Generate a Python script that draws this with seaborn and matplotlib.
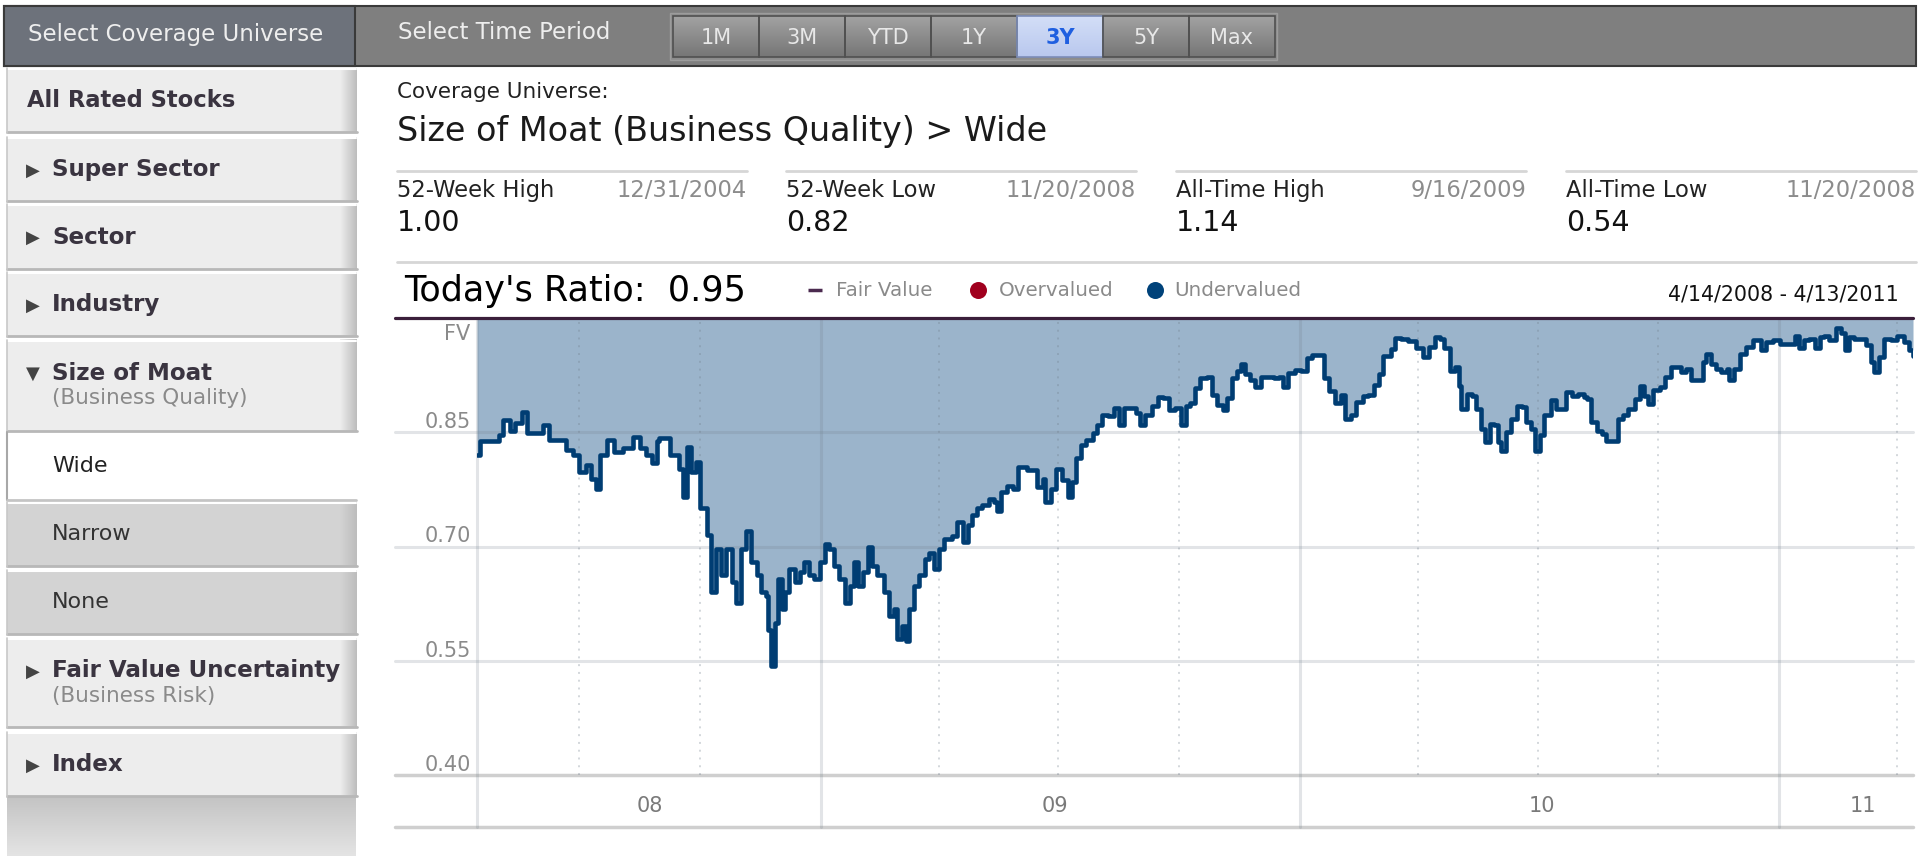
import numpy as np
import pandas as pd
import matplotlib
matplotlib.use("Agg")
import matplotlib.pyplot as plt
import matplotlib.colors as mcolors
import matplotlib.transforms as mtransforms
from matplotlib.patches import Rectangle
import seaborn as sns

# ---------------- data ----------------
start_date = "2008-04-14"
end_date = "2011-04-13"

# days after start date / price-to-fair-value ratio
days_a = [0, 2, 10, 17, 20, 25, 29, 34, 38, 45,
          50, 55, 63, 68, 73, 78, 83, 87, 91, 94,
          99, 104, 111, 119, 124, 129, 133, 137, 139, 147,
          154, 157, 160, 163, 167, 170, 173, 175, 178, 182,
          186, 190, 194, 197, 201, 205, 209, 213, 216, 220,
          222, 224, 227, 229, 232, 235, 238, 242, 246, 249,
          253, 257, 261, 265, 268, 272, 276, 280, 284, 287,
          290, 294, 298, 301, 305, 310, 314, 318, 320, 324,
          327, 329, 333, 337, 341, 344, 348, 352, 356]
ratio_a = [0.820, 0.838, 0.838, 0.846, 0.866, 0.851, 0.862, 0.877, 0.849, 0.849,
           0.860, 0.840, 0.840, 0.827, 0.820, 0.798, 0.807, 0.789, 0.776, 0.820,
           0.840, 0.824, 0.829, 0.844, 0.829, 0.820, 0.809, 0.838, 0.842, 0.820,
           0.802, 0.765, 0.831, 0.798, 0.811, 0.750, 0.750, 0.715, 0.640, 0.697,
           0.662, 0.697, 0.653, 0.626, 0.697, 0.721, 0.679, 0.662, 0.640, 0.635,
           0.591, 0.543, 0.600, 0.657, 0.618, 0.640, 0.670, 0.653, 0.666, 0.679,
           0.662, 0.657, 0.679, 0.703, 0.697, 0.675, 0.657, 0.626, 0.648, 0.679,
           0.648, 0.666, 0.699, 0.675, 0.662, 0.640, 0.609, 0.618, 0.578, 0.596,
           0.576, 0.618, 0.648, 0.662, 0.684, 0.692, 0.670, 0.697, 0.710]

days_b = [362, 366, 370, 374, 377, 381, 385, 390, 394, 396,
          399, 404, 408, 412, 419, 427, 431, 433, 437, 441,
          446, 450, 453, 456, 460, 464, 469, 472, 476, 481,
          485, 489, 493, 497, 502, 505, 509, 514, 519, 523,
          527, 532, 536, 540, 543, 547, 551, 556, 560, 564,
          568, 571, 575, 579, 582, 585, 589, 593, 597, 602,
          607, 611, 614, 618, 623, 628, 632, 636, 641, 645,
          649, 654, 658, 661, 666, 670, 675, 679, 683, 687,
          690, 696, 699, 704, 709, 715]
ratio_b = [0.714, 0.732, 0.706, 0.728, 0.741, 0.750, 0.754, 0.763, 0.758, 0.747,
           0.772, 0.780, 0.776, 0.805, 0.800, 0.778, 0.789, 0.758, 0.776, 0.802,
           0.787, 0.765, 0.785, 0.816, 0.833, 0.840, 0.849, 0.860, 0.873, 0.871,
           0.882, 0.860, 0.882, 0.882, 0.875, 0.860, 0.873, 0.884, 0.896, 0.895,
           0.879, 0.882, 0.860, 0.884, 0.888, 0.908, 0.921, 0.923, 0.899, 0.886,
           0.879, 0.895, 0.921, 0.930, 0.939, 0.926, 0.919, 0.910, 0.923, 0.923,
           0.921, 0.923, 0.910, 0.928, 0.932, 0.930, 0.948, 0.952, 0.952, 0.921,
           0.904, 0.888, 0.899, 0.868, 0.873, 0.890, 0.897, 0.899, 0.912, 0.926,
           0.950, 0.959, 0.974, 0.972, 0.970, 0.961]

days_c = [721, 725, 730, 734, 737, 741, 745, 748, 750, 754,
          758, 761, 765, 768, 772, 775, 778, 780, 784, 788,
          792, 796, 799, 803, 806, 810, 813, 818, 822, 826,
          830, 834, 839, 843, 846, 849, 853, 857, 860, 865,
          869, 873, 877, 882, 886, 889, 892, 896, 901, 905,
          910, 913, 917, 921, 925, 930, 934, 936, 940, 944,
          948, 952, 954, 958, 962, 967, 972, 976, 978, 982,
          987, 993, 1000, 1004, 1007, 1011, 1015, 1019, 1023, 1026,
          1030, 1035, 1039, 1042, 1045, 1049, 1054, 1058, 1062, 1064,
          1068, 1072, 1077, 1082, 1087, 1091, 1094]
ratio_c = [0.949, 0.962, 0.975, 0.973, 0.960, 0.931, 0.936, 0.911, 0.881, 0.900,
           0.898, 0.881, 0.854, 0.837, 0.861, 0.859, 0.837, 0.826, 0.850, 0.868,
           0.885, 0.883, 0.863, 0.854, 0.826, 0.846, 0.872, 0.892, 0.881, 0.881,
           0.903, 0.898, 0.900, 0.896, 0.894, 0.863, 0.852, 0.848, 0.839, 0.839,
           0.868, 0.872, 0.881, 0.894, 0.911, 0.898, 0.887, 0.905, 0.909, 0.922,
           0.936, 0.936, 0.929, 0.933, 0.918, 0.918, 0.942, 0.953, 0.940, 0.933,
           0.929, 0.933, 0.918, 0.933, 0.953, 0.962, 0.971, 0.971, 0.958, 0.969,
           0.971, 0.966, 0.966, 0.977, 0.960, 0.971, 0.973, 0.960, 0.975, 0.977,
           0.971, 0.987, 0.980, 0.958, 0.975, 0.973, 0.973, 0.964, 0.942, 0.929,
           0.949, 0.973, 0.971, 0.977, 0.969, 0.958, 0.950]

y_ticks = [0.40, 0.55, 0.70, 0.85, 1.00]
y_tick_labels = ["0.40", "0.55", "0.70", "0.85", "FV"]
year_labels = ["08", "09", "10", "11"]
year_label_dates = ["2008-08-24", "2009-06-28", "2010-07-04", "2011-03-06"]
year_starts = ["2009-01-01", "2010-01-01", "2011-01-01"]
quarter_starts = ["2008-07-01", "2008-10-01", "2009-04-01", "2009-07-01", "2009-10-01",
                  "2010-04-01", "2010-07-01", "2010-10-01", "2011-04-01"]

time_periods = ["1M", "3M", "YTD", "1Y", "3Y", "5Y", "Max"]
selected_period = "3Y"
stat_names = ["52-Week High", "52-Week Low", "All-Time High", "All-Time Low"]
stat_dates = ["12/31/2004", "11/20/2008", "9/16/2009", "11/20/2008"]
stat_values = [1.00, 0.82, 1.14, 0.54]
todays_ratio = 0.95
legend_labels = ["Fair Value", "Overvalued", "Undervalued"]

# ---------------- style ----------------
sns.set_theme(style="white")
plt.rcParams["font.family"] = ["DejaVu Sans"]

fig = plt.figure(figsize=(19.2, 8.56), dpi=100, facecolor="white")
ui = fig.add_axes([0, 0, 1, 1], zorder=0)
ui.set_xlim(0, 1920)
ui.set_ylim(856, 0)
ui.axis("off")


def rect(x0, y0, x1, y1, fc, ec="none", lw=0, z=1):
    ui.add_patch(Rectangle((x0, y0), x1 - x0, y1 - y0, facecolor=fc,
                           edgecolor=ec, linewidth=lw, zorder=z))


def vgrad(x0, y0, x1, y1, c_top, c_bot, z=1):
    c0 = np.array(mcolors.to_rgb(c_top))
    c1 = np.array(mcolors.to_rgb(c_bot))
    t = np.linspace(0, 1, 64)[:, None]
    img = (c0 * (1 - t) + c1 * t)[:, None, :]
    ui.imshow(img, extent=(x0, x1, y1, y0), aspect="auto", zorder=z,
              interpolation="bilinear")


def hgrad(x0, y0, x1, y1, c_l, c_r, z=1):
    c0 = np.array(mcolors.to_rgb(c_l))
    c1 = np.array(mcolors.to_rgb(c_r))
    t = np.linspace(0, 1, 32)[None, :]
    img = (c0[None, None, :] * (1 - t)[..., None] + c1[None, None, :] * t[..., None])
    ui.imshow(img, extent=(x0, x1, y1, y0), aspect="auto", zorder=z,
              interpolation="bilinear")


# ---------------- top bar ----------------
rect(4, 6, 1916, 66, "#7F7F7F", ec="#3A3A3A", lw=1.5, z=1)
rect(4, 6, 355, 66, "#6D727B", ec="#3A3A3A", lw=1.5, z=2)
ui.text(28, 34, "Select Coverage Universe", fontsize=16.5, color="#EEEEEE",
        va="center", ha="left", zorder=5)
ui.text(398, 32, "Select Time Period", fontsize=16.5, color="#EEEEEE",
        va="center", ha="left", zorder=5)
rect(670, 13, 1277, 60, "#8C8C8C", ec="#9C9C9C", lw=1, z=2)
bw = 86.0
for i, p in enumerate(time_periods):
    x0 = 673 + i * bw
    if p == selected_period:
        vgrad(x0, 16, x0 + bw, 57, "#D3DEF7", "#B9C8EE", z=3)
        rect(x0, 16, x0 + bw, 57, "none", ec="#7C8DB8", lw=1.2, z=4)
        ui.text(x0 + bw / 2, 38, p, fontsize=15, color="#1F5FE0", fontweight="bold",
                ha="center", va="center", zorder=5)
    else:
        vgrad(x0, 16, x0 + bw, 57, "#A2A2A2", "#767676", z=3)
        rect(x0, 16, x0 + bw, 57, "none", ec="#505050", lw=1.2, z=4)
        ui.text(x0 + bw / 2, 38, p, fontsize=15, color="#E8E8E8",
                ha="center", va="center", zorder=5)

# ---------------- sidebar ----------------
sidebar = [
    ("All Rated Stocks", None, 68, 133, "top", None),
    ("Super Sector", None, 137, 202, "top", "\u25B6"),
    ("Sector", None, 204, 270, "top", "\u25B6"),
    ("Industry", None, 272, 337, "top", "\u25B6"),
    ("Size of Moat", "(Business Quality)", 340, 432, "top", "\u25BC"),
    ("Wide", None, 432, 500, "sel", None),
    ("Narrow", None, 502, 567, "sub", None),
    ("None", None, 570, 635, "sub", None),
    ("Fair Value Uncertainty", "(Business Risk)", 638, 728, "top", "\u25B6"),
    ("Index", None, 732, 797, "top", "\u25B6"),
]
for title, sub, y0, y1, kind, arrow in sidebar:
    if kind == "sel":
        rect(7, y0, 356, y1, "white", z=2)
        ui.plot([7, 7], [y0, y1], color="#A8A8A8", lw=1.5, zorder=3)
        ui.plot([7, 356], [y1, y1], color="#C4C4C4", lw=2, zorder=3)
        ui.text(52, (y0 + y1) / 2, title, fontsize=16, color="#222222",
                va="center", ha="left", zorder=5)
        continue
    fc = "#EDEDED" if kind == "top" else "#D3D3D3"
    rect(7, y0, 356, y1, fc, z=2)
    hgrad(340, y0, 357, y1, fc, "#BDBDBD", z=3)
    ui.plot([7, 356], [y0 + 1, y0 + 1], color="white", lw=1.5, zorder=3)
    ui.plot([7, 357], [y1 - 1, y1 - 1], color="#B8B8B8", lw=2, zorder=3)
    ui.plot([7, 7], [y0, y1], color="#C8C8C8", lw=1.2, zorder=3)
    if kind == "sub":
        ui.text(52, (y0 + y1) / 2, title, fontsize=16, color="#333333",
                va="center", ha="left", zorder=5)
        continue
    ty = (y0 + y1) / 2 if sub is None else y0 + 33
    if arrow is None:
        ui.text(27, ty, title, fontsize=16.3, fontweight="bold", color="#3A3440",
                va="center", ha="left", zorder=5)
    else:
        ui.text(26, ty + 1, arrow, fontsize=13, color="#444444",
                va="center", ha="left", zorder=5)
        ui.text(52, ty, title, fontsize=16.6, fontweight="bold", color="#3A3440",
                va="center", ha="left", zorder=5)
    if sub is not None:
        ui.text(52, y0 + 58, sub, fontsize=15.5, color="#8A8A8A",
                va="center", ha="left", zorder=5)
vgrad(7, 797, 356, 856, "#C4C4C4", "#E4E4E4", z=2)

# ---------------- header ----------------
ui.text(397, 92, "Coverage Universe:", fontsize=15.5, color="#222222",
        va="center", ha="left", zorder=5)
ui.text(397, 131, "Size of Moat (Business Quality) > Wide", fontsize=24,
        color="#1A1A1A", va="center", ha="left", zorder=5)
col_x = [397, 786, 1176, 1566]
col_w = 350
for cx, name, dt, val in zip(col_x, stat_names, stat_dates, stat_values):
    ui.plot([cx, cx + col_w], [171, 171], color="#D6D6D6", lw=2, zorder=3)
    ui.text(cx, 190, name, fontsize=16.3, color="#222222", va="center",
            ha="left", zorder=5)
    ui.text(cx + col_w, 190, dt, fontsize=16.3, color="#8C8C8C", va="center",
            ha="right", zorder=5)
    ui.text(cx, 223, f"{val:.2f}", fontsize=20.5, color="#111111", va="center",
            ha="left", zorder=5)
ui.plot([397, 1916], [262, 262], color="#D6D6D6", lw=2, zorder=3)

ui.text(404, 291, f"Today's Ratio:  {todays_ratio:.2f}", fontsize=25.2,
        color="#000000", va="center", ha="left", zorder=5)
ui.plot([808, 822], [290, 290], color="#4B2A4F", lw=2.5, zorder=5,
        solid_capstyle="butt")
ui.text(836, 290, legend_labels[0], fontsize=14.3, color="#8A8A8A",
        va="center", ha="left", zorder=5)
ui.scatter([978], [290], s=150, color="#A0001E", zorder=5, linewidths=0)
ui.text(999, 290, legend_labels[1], fontsize=14.3, color="#8A8A8A",
        va="center", ha="left", zorder=5)
ui.scatter([1155], [290], s=150, color="#00427A", zorder=5, linewidths=0)
ui.text(1174, 290, legend_labels[2], fontsize=14.3, color="#8A8A8A",
        va="center", ha="left", zorder=5)
ui.text(1899, 294, f"{pd.Timestamp(start_date):%-m/%-d/%Y} - {pd.Timestamp(end_date):%-m/%-d/%Y}",
        fontsize=14.8, color="#111111", va="center", ha="right", zorder=5)

# bottom line of the date band
ui.plot([395, 1913], [827, 827], color="#CFCFCF", lw=2.5, zorder=3)
ui.set_xlim(0, 1920)
ui.set_ylim(856, 0)

# ---------------- chart ----------------
ax = fig.add_axes([477 / 1920, 81 / 856, 1436 / 1920, 457 / 856], zorder=2)
ax.patch.set_alpha(0)
for s in ax.spines.values():
    s.set_visible(False)

start = pd.Timestamp(start_date)
end = pd.Timestamp(end_date)
days = days_a + days_b + days_c
ratio = ratio_a + ratio_b + ratio_c
df = pd.DataFrame({"date": start + pd.to_timedelta(days, unit="D"), "ratio": ratio})

ax.fill_between(df["date"], df["ratio"], 1.0, step="post", color="#9BB4CB",
                lw=0, zorder=1)
sns.lineplot(data=df, x="date", y="ratio", ax=ax, color="#003D73", lw=3.3,
             drawstyle="steps-post", zorder=4, legend=False)

ax.set_xlim(start, end)
ax.set_ylim(0.40, 1.0)
ax.set_xlabel("")
ax.set_ylabel("")

grid_c = "#6E7B88"
left_ext = -82 / 1436
for yv in y_ticks[1:4]:
    ax.axhline(yv, xmin=left_ext, xmax=1, color=grid_c, alpha=0.2, lw=2.2,
               clip_on=False, zorder=2)
ax.axhline(0.40, xmin=left_ext, xmax=1, color="#CFCFCF", lw=2.5,
           clip_on=False, zorder=2)
ax.axhline(1.0, xmin=left_ext, xmax=1, color="#3B1F3B", lw=2.3,
           clip_on=False, zorder=5)
band = -(827 - 775) / 457
for d in [start_date] + year_starts:
    ax.axvline(pd.Timestamp(d), ymin=band, ymax=1, color=grid_c, alpha=0.2,
               lw=2.2, clip_on=False, zorder=2)
for d in quarter_starts:
    ax.axvline(pd.Timestamp(d), ymin=0, ymax=1, color=grid_c, alpha=0.3,
               lw=1.4, ls=(0, (1, 3)), zorder=2)

ax.set_yticks(y_ticks)
ax.set_yticklabels(y_tick_labels)
ax.tick_params(axis="y", length=0, pad=4.5, labelsize=15, labelcolor="#8A8A8A")
fv_shift = mtransforms.ScaledTranslation(0, -4 / 72, fig.dpi_scale_trans)
for lbl, t in zip(ax.get_yticklabels(), y_tick_labels):
    if t == "FV":
        lbl.set_va("top")
        lbl.set_transform(lbl.get_transform() + fv_shift)
    else:
        lbl.set_va("bottom")

ax.set_xticks(pd.to_datetime(year_label_dates))
ax.set_xticklabels(year_labels)
ax.tick_params(axis="x", length=0, pad=15, labelsize=15, labelcolor="#7A7A7A")
ax.grid(False)

fig.savefig("out.png", dpi=100, facecolor="white")
